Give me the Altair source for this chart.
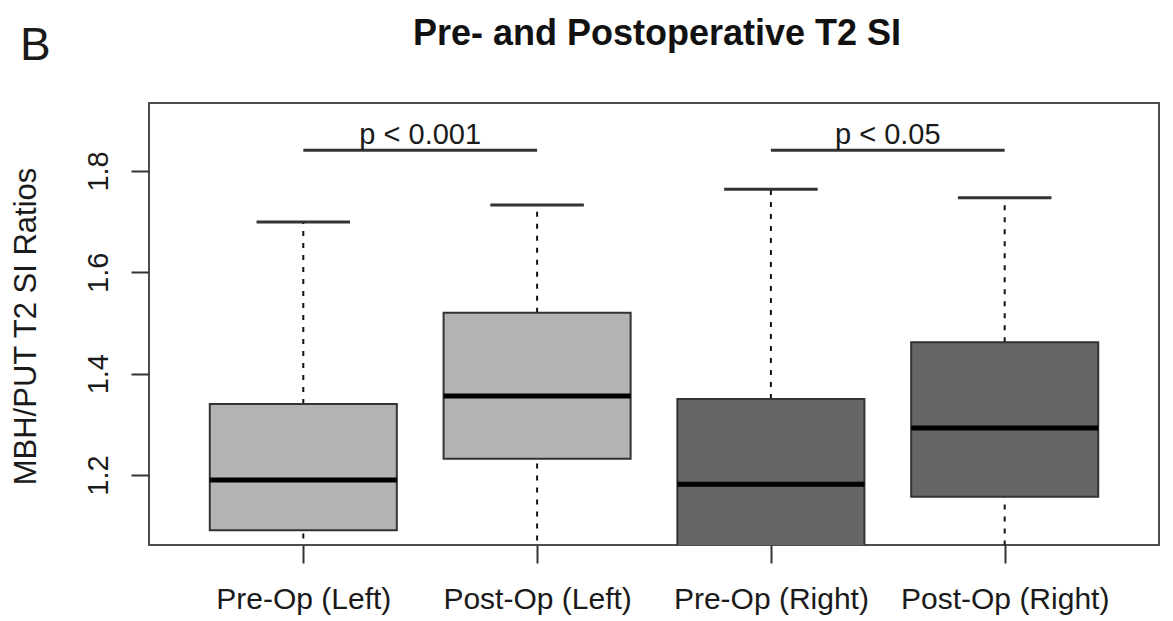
import json
import altair as alt
import pandas as pd

# ---- data ----
groups = ["Pre-Op (Left)", "Post-Op (Left)", "Pre-Op (Right)", "Post-Op (Right)"]
positions = [1, 2, 3, 4]
side = ["Left", "Left", "Right", "Right"]
lower_whisker = [0.98, 1.00, 0.95, 0.99]
q1 = [1.091, 1.232, 1.030, 1.157]
median = [1.190, 1.356, 1.182, 1.293]
q3 = [1.340, 1.520, 1.350, 1.462]
upper_whisker = [1.699, 1.733, 1.764, 1.747]

sig_start = [1, 3]
sig_end = [2, 4]
sig_y = [1.841, 1.841]
sig_label = ["p < 0.001", "p < 0.05"]

y_ticks = [1.2, 1.4, 1.6, 1.8]

title_text = "Pre- and Postoperative T2 SI"
panel_letter = "B"

FONT = "Liberation Sans"
BOX_HALF = 0.4
CAP_HALF = 0.2
W, H = 1010, 442

box = pd.DataFrame({
    "group": groups, "pos": positions, "side": side,
    "lo": lower_whisker, "q1": q1, "med": median, "q3": q3, "hi": upper_whisker,
})
sig = pd.DataFrame({"start": sig_start, "end": sig_end, "y": sig_y, "label": sig_label})

x_scale = alt.Scale(domain=[0.34, 4.66], nice=False, zero=False)
y_scale = alt.Scale(domain=[1.062, 1.934], nice=False, zero=False)

label_expr = json.dumps(groups) + "[datum.value - 1]"

x_axis = alt.Axis(
    values=positions, labelExpr=label_expr, title=None, domain=False, grid=False,
    tickSize=18, tickWidth=2, tickColor="#333333", labelFontSize=30, labelFont=FONT,
    labelColor="#1a1a1a", labelPadding=45, labelBaseline="alphabetic", labelAngle=0,
    labelLimit=500,
)
y_axis = alt.Axis(
    values=y_ticks, format=".1f", title="MBH/PUT T2 SI Ratios", domain=False, grid=False,
    tickSize=18, tickWidth=2, tickColor="#333333", labelFontSize=29, labelFont=FONT,
    labelColor="#1a1a1a", labelAngle=270, labelAlign="center", labelBaseline="alphabetic",
    labelPadding=24, titleFont=FONT, titleFontSize=31, titleFontWeight="normal",
    titleColor="#1a1a1a", titleAngle=270, titleAlign="center", titleBaseline="alphabetic",
    titleX=-114, titleY=223, titleLimit=600,
)

base = alt.Chart(box).transform_calculate(
    x0=f"datum.pos - {BOX_HALF}", x1=f"datum.pos + {BOX_HALF}",
    c0=f"datum.pos - {CAP_HALF}", c1=f"datum.pos + {CAP_HALF}",
)

whisk_hi = base.mark_rule(color="#111111", strokeWidth=2, strokeDash=[5, 7], clip=True).encode(
    x=alt.X("pos:Q", scale=x_scale, axis=x_axis),
    y=alt.Y("q3:Q", scale=y_scale, axis=y_axis),
    y2="hi:Q",
)
whisk_lo = base.mark_rule(color="#111111", strokeWidth=2, strokeDash=[5, 7], clip=True).encode(
    x=alt.X("pos:Q", scale=x_scale), y=alt.Y("lo:Q", scale=y_scale), y2="q1:Q",
)
cap_hi = base.mark_rule(color="#333333", strokeWidth=3, clip=True).encode(
    x=alt.X("c0:Q", scale=x_scale), x2="c1:Q", y=alt.Y("hi:Q", scale=y_scale),
)
cap_lo = base.mark_rule(color="#333333", strokeWidth=3, clip=True).encode(
    x=alt.X("c0:Q", scale=x_scale), x2="c1:Q", y=alt.Y("lo:Q", scale=y_scale),
)
boxes = base.mark_rect(stroke="#333333", strokeWidth=2, clip=True).encode(
    x=alt.X("x0:Q", scale=x_scale), x2="x1:Q",
    y=alt.Y("q1:Q", scale=y_scale), y2="q3:Q",
    color=alt.Color("side:N", scale=alt.Scale(domain=["Left", "Right"],
                                              range=["#b3b3b3", "#666666"]), legend=None),
)
medians = base.mark_rule(color="#000000", strokeWidth=5, clip=True).encode(
    x=alt.X("x0:Q", scale=x_scale), x2="x1:Q", y=alt.Y("med:Q", scale=y_scale),
)

sig_base = alt.Chart(sig).transform_calculate(mid="(datum.start + datum.end) / 2")
sig_bars = sig_base.mark_rule(color="#333333", strokeWidth=3).encode(
    x=alt.X("start:Q", scale=x_scale), x2="end:Q", y=alt.Y("y:Q", scale=y_scale),
)
sig_text = sig_base.mark_text(font=FONT, fontSize=29, color="#1a1a1a",
                              baseline="alphabetic", align="center", dy=-6).encode(
    x=alt.X("mid:Q", scale=x_scale), y=alt.Y("y:Q", scale=y_scale), text="label:N",
)

title_mark = alt.Chart(pd.DataFrame({"t": [title_text]})).mark_text(
    font=FONT, fontSize=36, fontWeight="bold", color="#111111",
    align="center", baseline="alphabetic"
).encode(x=alt.value(W / 2 + 3), y=alt.value(-58), text="t:N")

panel = alt.Chart(pd.DataFrame({"t": [panel_letter]})).mark_text(
    font=FONT, fontSize=46, color="#1a1a1a", align="left", baseline="alphabetic"
).encode(x=alt.value(-129), y=alt.value(-43), text="t:N")

chart = alt.layer(
    whisk_hi, whisk_lo, cap_hi, cap_lo, boxes, medians, sig_bars, sig_text,
    title_mark, panel
).properties(
    width=W, height=H,
    autosize=alt.AutoSizeParams(type="none"),
    padding={"left": 141, "top": 95, "right": 6, "bottom": 80},
    background="white",
).configure_view(stroke="#4d4d4d", strokeWidth=2)

chart.save("out.html", embed_options={"renderer": "svg", "actions": False})
